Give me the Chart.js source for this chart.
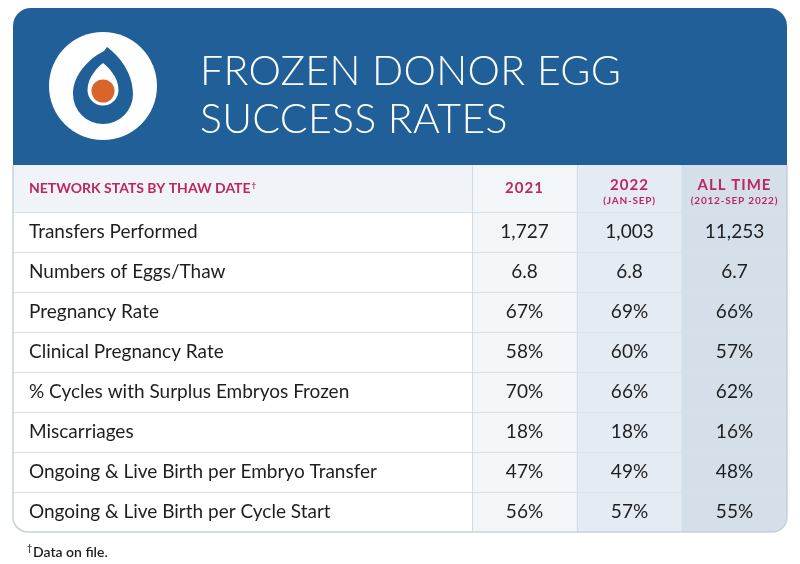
<!DOCTYPE html>
<html>
<head>
<meta charset="utf-8">
<script src="https://cdn.jsdelivr.net/npm/chart.js@4.4.0/dist/chart.umd.min.js"></script>
<style>
html, body { margin: 0; padding: 0; background: #fff; }
canvas { display: block; }
</style>
</head>
<body>
<canvas id="tabla" width="800" height="564"></canvas>
<script>
// datos de la tabla
const titleLines = ['FROZEN DONOR EGG', 'SUCCESS RATES'];
const headerLabel = 'NETWORK STATS BY THAW DATE';
const headerMark = '\u2020';
const rowLabels = [
  'Transfers Performed',
  'Numbers of Eggs/Thaw',
  'Pregnancy Rate',
  'Clinical Pregnancy Rate',
  '% Cycles with Surplus Embryos Frozen',
  'Miscarriages',
  'Ongoing & Live Birth per Embryo Transfer',
  'Ongoing & Live Birth per Cycle Start'
];
const rowFormats = ['count', 'decimal', 'pct', 'pct', 'pct', 'pct', 'pct', 'pct'];
const colLabels = ['2021', '2022', 'ALL TIME'];
const colSubLabels = ['', '(JAN-SEP)', '(2012-SEP 2022)'];
const vals2021 = [1727, 6.8, 67, 58, 70, 18, 47, 56];
const vals2022 = [1003, 6.8, 69, 60, 66, 18, 49, 57];
const valsAllTime = [11253, 6.7, 66, 57, 62, 16, 48, 55];
const footnote = 'Data on file.';

const columnas = [vals2021, vals2022, valsAllTime];
const yLabels = [headerLabel].concat(rowLabels);

// estilos
const fam = 'Lato, "Open Sans", sans-serif';
const azul = '#215f99';
const rosa = '#bb2761';
const texto = '#1e1e1e';
const fondosCol = ['#f3f6f9', '#e5ebf2', '#d4dfe9'];
const linea = '#d8e1e9';
const yMin = -0.675;   // la fila de cabecera es mas alta
const yMax = rowLabels.length + 0.5;
const tblLeft = 13, tblRight = 787, tblTop = 8;
const fuenteCabecera = { family: fam, size: 14, weight: 'bold' };

function formato(v, f) {
  if (f === 'count') return v.toLocaleString('en-US');
  if (f === 'decimal') return v.toFixed(1);
  return v + '%';
}

function pathRedondo(ctx, x, y, w, h, rt, rb) {
  ctx.beginPath();
  ctx.moveTo(x + rt, y);
  ctx.lineTo(x + w - rt, y);
  ctx.arcTo(x + w, y, x + w, y + rt, rt);
  ctx.lineTo(x + w, y + h - rb);
  ctx.arcTo(x + w, y + h, x + w - rb, y + h, rb);
  ctx.lineTo(x + rb, y + h);
  ctx.arcTo(x, y + h, x, y + h - rb, rb);
  ctx.lineTo(x, y + rt);
  ctx.arcTo(x, y, x + rt, y, rt);
  ctx.closePath();
}

function dibujaLogo(ctx) {
  ctx.fillStyle = '#fff';
  ctx.beginPath(); ctx.arc(103, 86, 54, 0, Math.PI * 2); ctx.fill();
  // gota azul
  ctx.fillStyle = azul;
  ctx.beginPath();
  ctx.moveTo(107, 47);
  ctx.bezierCurveTo(114, 52, 133, 69, 133, 94);
  ctx.arc(103, 94, 30, 0, Math.PI, false);
  ctx.bezierCurveTo(73, 74, 90, 58, 104, 51);
  ctx.lineTo(107, 47);
  ctx.fill();
  // gota blanca
  ctx.fillStyle = '#fff';
  ctx.beginPath();
  ctx.moveTo(103, 63);
  ctx.bezierCurveTo(108, 67, 118.5, 77, 118.5, 90);
  ctx.arc(103, 90, 15.5, 0, Math.PI, false);
  ctx.bezierCurveTo(87.5, 77, 98, 67, 103, 63);
  ctx.fill();
  // punto naranja
  ctx.fillStyle = '#d9642c';
  ctx.beginPath(); ctx.arc(103, 91, 11.5, 0, Math.PI * 2); ctx.fill();
}

const tablaPlugin = {
  id: 'tabla',
  beforeDraw(chart) {
    const ctx = chart.ctx;
    const y = chart.scales.y;
    const top = y.getPixelForValue(yMin);
    ctx.save();
    ctx.fillStyle = '#fff';
    ctx.fillRect(0, 0, chart.width, chart.height);
    pathRedondo(ctx, tblLeft, tblTop, tblRight - tblLeft, top - tblTop, 18, 0);
    ctx.fillStyle = azul;
    ctx.fill();
    ctx.fillStyle = '#f0f4f8';
    ctx.fillRect(tblLeft, top, chart.chartArea.left - tblLeft, y.getPixelForValue(0.5) - top);
    dibujaLogo(ctx);
    ctx.fillStyle = '#fff';
    ctx.font = '300 41px ' + fam;
    ctx.letterSpacing = '0.3px';
    ctx.textBaseline = 'alphabetic';
    ctx.textAlign = 'left';
    ctx.fillText(titleLines[0], 200, 85);
    ctx.fillText(titleLines[1], 200, 133);
    ctx.restore();
  },
  beforeDatasetsDraw(chart) {
    const ctx = chart.ctx;
    const y = chart.scales.y;
    const top = y.getPixelForValue(yMin), bottom = y.getPixelForValue(yMax);
    ctx.save();
    pathRedondo(ctx, tblLeft, top, tblRight - tblLeft, bottom - top, 0, 15);
    ctx.clip();
  },
  afterDatasetsDraw(chart) {
    const ctx = chart.ctx;
    ctx.restore();
    const x = chart.scales.x, y = chart.scales.y;
    const top = y.getPixelForValue(yMin), bottom = y.getPixelForValue(yMax);
    const half = (x.getPixelForValue(1) - x.getPixelForValue(0)) / 2;
    ctx.save();
    // separadores de filas
    ctx.strokeStyle = linea;
    ctx.lineWidth = 1;
    for (let i = 0; i < rowLabels.length; i++) {
      const yy = Math.round(y.getPixelForValue(i + 0.5)) + 0.5;
      ctx.beginPath(); ctx.moveTo(tblLeft, yy); ctx.lineTo(tblRight, yy); ctx.stroke();
    }
    // separadores de columnas
    ctx.strokeStyle = '#d2dce5';
    colLabels.forEach((c, i) => {
      const xx = Math.round(x.getPixelForValue(i) - half) + 0.5;
      ctx.beginPath(); ctx.moveTo(xx, top); ctx.lineTo(xx, bottom); ctx.stroke();
    });
    // cruz de la cabecera
    const yc = y.getPixelForValue((yMin + 0.5) / 2);
    ctx.font = 'bold 14px ' + fam;
    const wh = ctx.measureText(headerLabel).width;
    ctx.fillStyle = rosa;
    ctx.font = 'bold 8px ' + fam;
    ctx.textAlign = 'left';
    ctx.textBaseline = 'alphabetic';
    ctx.fillText(headerMark, chart.chartArea.left - y.width + wh + 1, yc - 1);
    // cabeceras de columnas
    ctx.textAlign = 'center';
    ctx.textBaseline = 'middle';
    colLabels.forEach((c, i) => {
      const xx = x.getPixelForValue(i);
      ctx.fillStyle = rosa;
      ctx.letterSpacing = '1px';
      ctx.font = 'bold 15px ' + fam;
      if (colSubLabels[i]) {
        ctx.fillText(c, xx, yc - 3);
        ctx.letterSpacing = '0.8px';
        ctx.font = 'bold 10px ' + fam;
        ctx.fillText(colSubLabels[i], xx, yc + 12);
      } else {
        ctx.fillText(c, xx, yc);
      }
    });
    // valores
    ctx.letterSpacing = '0px';
    ctx.font = '19px ' + fam;
    ctx.fillStyle = texto;
    columnas.forEach((vals, i) => {
      const xx = x.getPixelForValue(i);
      vals.forEach((v, r) => {
        ctx.fillText(formato(v, rowFormats[r]), xx, y.getPixelForValue(r + 1));
      });
    });
    // borde exterior
    ctx.strokeStyle = '#c4d2de';
    ctx.lineWidth = 1.5;
    const rb = 15;
    ctx.beginPath();
    ctx.moveTo(tblLeft, top);
    ctx.lineTo(tblLeft, bottom - rb);
    ctx.arcTo(tblLeft, bottom, tblLeft + rb, bottom, rb);
    ctx.lineTo(tblRight - rb, bottom);
    ctx.arcTo(tblRight, bottom, tblRight, bottom - rb, rb);
    ctx.lineTo(tblRight, top);
    ctx.stroke();
    // nota
    ctx.textAlign = 'left';
    ctx.textBaseline = 'alphabetic';
    ctx.fillStyle = texto;
    ctx.font = '600 9px ' + fam;
    ctx.fillText(headerMark, 27, 551);
    ctx.font = '600 14px ' + fam;
    ctx.fillText(footnote, 33, 557);
    ctx.restore();
  }
};

new Chart(document.getElementById('tabla'), {
  type: 'bar',
  data: {
    labels: colLabels,
    datasets: [{
      label: 'columnas',
      data: colLabels.map(() => [yMin, yMax]),
      backgroundColor: fondosCol,
      borderWidth: 0,
      barPercentage: 1,
      categoryPercentage: 1
    }]
  },
  options: {
    responsive: false,
    animation: false,
    layout: { padding: { top: 165, bottom: 32, left: 29, right: 13 } },
    plugins: { legend: { display: false }, tooltip: { enabled: false } },
    scales: {
      x: { type: 'category', display: false, offset: true },
      y: {
        type: 'linear',
        reverse: true,
        bounds: 'data',
        min: yMin,
        max: yMax,
        grid: { display: false },
        border: { display: false },
        afterBuildTicks: (s) => {
          s.ticks = yLabels.map((l, i) => ({ value: i === 0 ? (yMin + 0.5) / 2 : i }));
        },
        afterFit: (s) => { s.width = 443; },
        ticks: {
          autoSkip: false,
          padding: 0,
          crossAlign: 'far',
          callback: (v, i) => yLabels[i],
          color: (c) => c.index === 0 ? rosa : texto,
          font: (c) => c.index === 0 ? fuenteCabecera : { family: fam, size: 19 }
        }
      }
    }
  },
  plugins: [tablaPlugin]
});
</script>
</body>
</html>
